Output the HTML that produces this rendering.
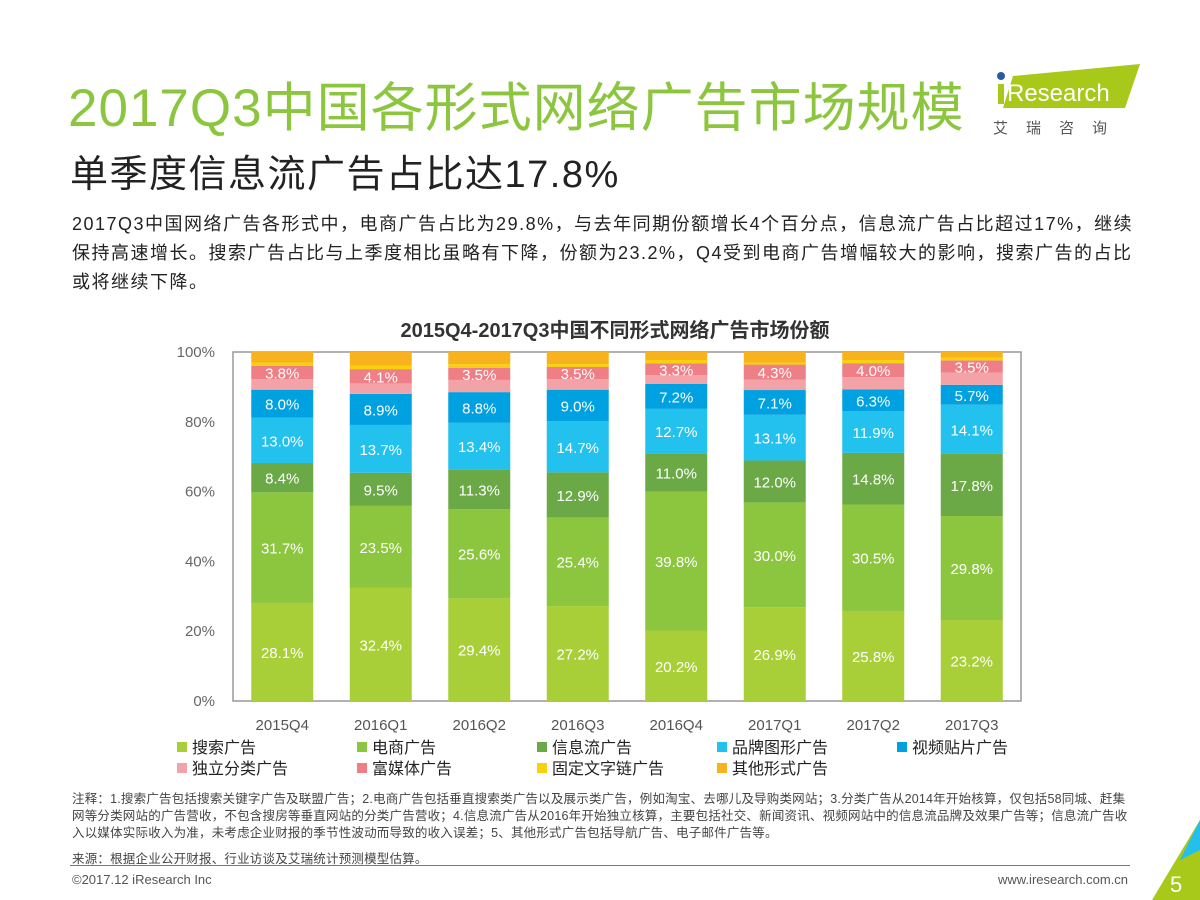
<!DOCTYPE html>
<html><head><meta charset="utf-8">
<style>
body{margin:0;width:1200px;height:900px;overflow:hidden;background:#fff;font-family:"Liberation Sans","Noto Sans CJK SC",sans-serif;position:relative}
.a{position:absolute;white-space:nowrap}
</style></head><body>
<div class="a" style="left:68px;top:66px;font-size:53px;color:#8cc63e;letter-spacing:1px">2017Q3中国各形式网络广告市场规模</div>
<div class="a" style="left:70px;top:143px;font-size:38px;color:#222;letter-spacing:1.5px">单季度信息流广告占比达17.8%</div>
<div class="a" style="left:72px;top:210px;font-size:18px;line-height:29px;color:#222;white-space:normal;width:1080px;letter-spacing:1.5px">2017Q3中国网络广告各形式中，电商广告占比为29.8%，与去年同期份额增长4个百分点，信息流广告占比超过17%，继续保持高速增长。搜索广告占比与上季度相比虽略有下降，份额为23.2%，Q4受到电商广告增幅较大的影响，搜索广告的占比或将继续下降。</div>
<svg class="a" style="left:985px;top:60px" width="160" height="80">
<polygon points="28,16 155,4 140,48 18,48" fill="#a8c81a"/>
<rect x="13" y="24" width="6" height="20" fill="#a8c81a"/>
<circle cx="16" cy="16" r="4" fill="#2a5aa5"/>
<text x="22" y="41" font-size="24" fill="#fff" font-family="Liberation Sans">Research</text>
<text x="8" y="73" font-size="15" fill="#555" letter-spacing="18" font-family="Noto Sans CJK SC">艾瑞咨询</text>
</svg>
<svg id="chart" class="a" style="left:0;top:300px" width="1200" height="490"></svg>
<div class="a" style="left:72px;top:791px;font-size:12.5px;line-height:17px;color:#444;white-space:normal;width:1065px;letter-spacing:0.2px">注释：1.搜索广告包括搜索关键字广告及联盟广告；2.电商广告包括垂直搜索类广告以及展示类广告，例如淘宝、去哪儿及导购类网站；3.分类广告从2014年开始核算，仅包括58同城、赶集网等分类网站的广告营收，不包含搜房等垂直网站的分类广告营收；4.信息流广告从2016年开始独立核算，主要包括社交、新闻资讯、视频网站中的信息流品牌及效果广告等；信息流广告收入以媒体实际收入为准，未考虑企业财报的季节性波动而导致的收入误差；5、其他形式广告包括导航广告、电子邮件广告等。</div>
<div class="a" style="left:72px;top:848px;font-size:12.5px;color:#444;letter-spacing:0.2px">来源：根据企业公开财报、行业访谈及艾瑞统计预测模型估算。</div>
<div class="a" style="left:70px;top:865px;width:1060px;height:1px;background:#777"></div>
<div class="a" style="left:72px;top:872px;font-size:13px;color:#555">©2017.12 iResearch Inc</div>
<div class="a" style="left:998px;top:872px;font-size:13px;color:#555">www.iresearch.com.cn</div>
<svg class="a" style="left:1140px;top:820px" width="60" height="80"><polygon points="60,0 60,80 12,80" fill="#a8c81a"/><polygon points="60,0 60,30 40,40" fill="#23c0ee"/><text x="30" y="72" font-size="22" fill="#fff">5</text></svg>
<script>
const categories=["2015Q4","2016Q1","2016Q2","2016Q3","2016Q4","2017Q1","2017Q2","2017Q3"];
const seriesNames=["搜索广告","电商广告","信息流广告","品牌图形广告","视频贴片广告","独立分类广告","富媒体广告","固定文字链广告","其他形式广告"];
const search=[28.1,32.4,29.4,27.2,20.2,26.9,25.8,23.2];
const ecommerce=[31.7,23.5,25.6,25.4,39.8,30.0,30.5,29.8];
const infoflow=[8.4,9.5,11.3,12.9,11.0,12.0,14.8,17.8];
const brand=[13.0,13.7,13.4,14.7,12.7,13.1,11.9,14.1];
const video=[8.0,8.9,8.8,9.0,7.2,7.1,6.3,5.7];
const classified=[3.0,3.0,3.5,3.0,2.5,3.0,3.5,3.5];
const richmedia=[3.8,4.1,3.5,3.5,3.3,4.3,4.0,3.5];
const textlink=[1.0,1.0,1.0,0.8,1.0,0.6,0.9,0.8];
const other=[3.2,3.9,3.5,3.5,2.3,3.0,2.3,1.6];
const yTicks=["0%","20%","40%","60%","80%","100%"];
const series=[search,ecommerce,infoflow,brand,video,classified,richmedia,textlink,other];
const colors=["#a9cf38","#8cc63f","#6aa946","#22c1ee","#00a1e0","#f3a3a7","#ee7f86","#f7d10a","#f7b21d"];
const labeled=[true,true,true,true,true,false,true,false,false];
const NS="http://www.w3.org/2000/svg",svg=document.getElementById("chart");
const L=233,R=1021,T=52,B=401;
const y=v=>B-(v/100)*(B-T);
const step=(R-L)/categories.length;
const xc=i=>L+step*(i+0.5);
const bw=62;
function mk(t,a){const e=document.createElementNS(NS,t);for(const k in a)e.setAttribute(k,a[k]);svg.appendChild(e);return e;}
const title=mk("text",{x:615,y:37,"text-anchor":"middle","font-size":20,"font-weight":"bold",fill:"#333"});


title.textContent="2015Q4-2017Q3中国不同形式网络广告市场份额";
const frame=mk("rect",{x:L,y:T,width:R-L,height:B-T,fill:"none",stroke:"#999","stroke-width":1.5});


yTicks.forEach((t,i)=>{const e=mk("text",{x:215,y:y(i*20)+5,"text-anchor":"end","font-size":15,fill:"#666"});


e.textContent=t;});
categories.forEach((c,i)=>{let acc=0;
series.forEach((s,k)=>{const v=s[i];const r=mk("rect",{x:xc(i)-bw/2,y:y(acc+v),width:bw,height:y(acc)-y(acc+v),fill:colors[k]});


if(labeled[k]){const t=mk("text",{x:xc(i),y:(y(acc)+y(acc+v))/2+6,"text-anchor":"middle","font-size":15,fill:"#fff"});


t.textContent=v.toFixed(1)+"%";}
acc+=v;});
const xl=mk("text",{x:xc(i),y:430,"text-anchor":"middle","font-size":15,fill:"#555"});


xl.textContent=c;});
seriesNames.forEach((n,k)=>{const col=k%5,row=Math.floor(k/5);const lx=177+col*180,ly=442+row*21;
const sq=mk("rect",{x:lx,y:ly,width:10,height:10,fill:colors[k]});


const t=mk("text",{x:lx+15,y:ly+11,"font-size":16,fill:"#222"});


t.textContent=n;});
</script>
</body></html>
